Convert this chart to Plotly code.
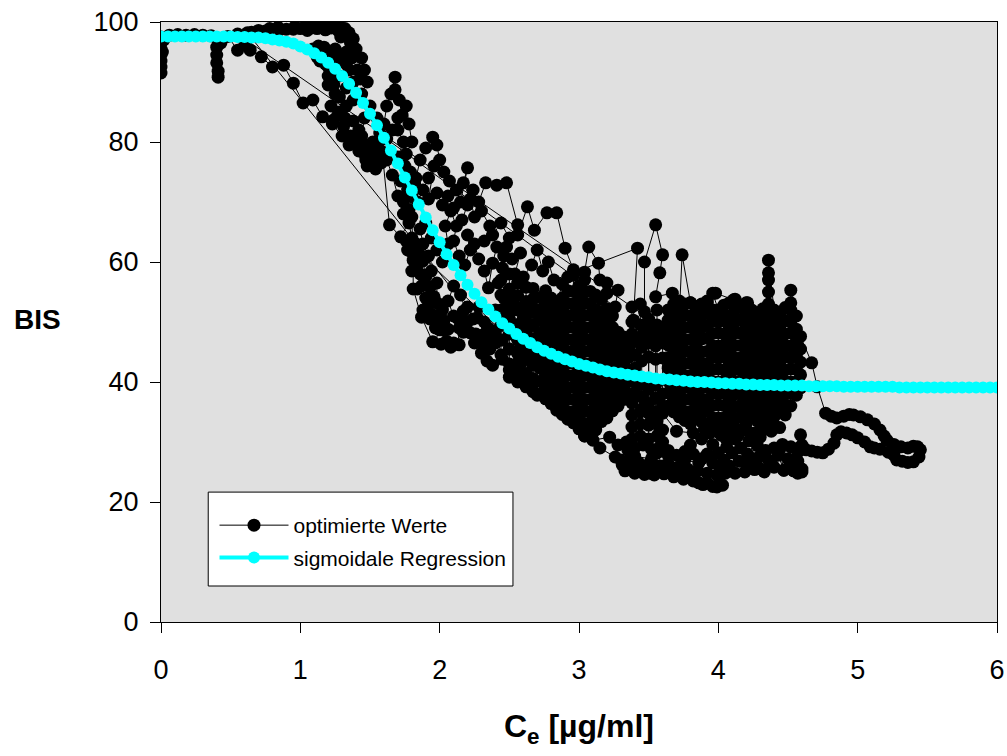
import plotly.graph_objects as go

# ---------------- sigmoid regression ----------------
reg_ce = [0.00, 0.05, 0.10, 0.15, 0.20, 0.25, 0.30, 0.35, 0.40, 0.45, 0.50, 0.55, 0.60, 0.65, 0.70, 0.75,
          0.80, 0.85, 0.90, 0.95, 1.00, 1.05, 1.10, 1.15, 1.20, 1.25, 1.30, 1.35, 1.40, 1.45, 1.50, 1.55,
          1.60, 1.65, 1.70, 1.75, 1.80, 1.85, 1.90, 1.95, 2.00, 2.05, 2.10, 2.15, 2.20, 2.25, 2.30, 2.35,
          2.40, 2.45, 2.50, 2.55, 2.60, 2.65, 2.70, 2.75, 2.80, 2.85, 2.90, 2.95, 3.00, 3.05, 3.10, 3.15,
          3.20, 3.25, 3.30, 3.35, 3.40, 3.45, 3.50, 3.55, 3.60, 3.65, 3.70, 3.75, 3.80, 3.85, 3.90, 3.95,
          4.00, 4.05, 4.10, 4.15, 4.20, 4.25, 4.30, 4.35, 4.40, 4.45, 4.50, 4.55, 4.60, 4.65, 4.70, 4.75,
          4.80, 4.85, 4.90, 4.95, 5.00, 5.05, 5.10, 5.15, 5.20, 5.25, 5.30, 5.35, 5.40, 5.45, 5.50, 5.55,
          5.60, 5.65, 5.70, 5.75, 5.80, 5.85, 5.90, 5.95, 6.00]
reg_bis = [97.6, 97.6, 97.6, 97.6, 97.6, 97.6, 97.6, 97.6, 97.6, 97.6, 97.6, 97.5, 97.5, 97.4, 97.4, 97.3,
           97.1, 96.9, 96.7, 96.4, 95.9, 95.4, 94.8, 94.1, 93.2, 92.2, 91.0, 89.7, 88.2, 86.5, 84.7, 82.8,
           80.7, 78.6, 76.4, 74.1, 71.9, 69.6, 67.4, 65.3, 63.3, 61.3, 59.5, 57.8, 56.2, 54.7, 53.3, 52.1,
           50.9, 49.8, 48.9, 48.0, 47.2, 46.5, 45.8, 45.2, 44.7, 44.2, 43.8, 43.4, 43.0, 42.7, 42.4, 42.1,
           41.8, 41.6, 41.4, 41.2, 41.1, 40.9, 40.8, 40.6, 40.5, 40.4, 40.3, 40.2, 40.1, 40.0, 40.0, 39.9,
           39.8, 39.8, 39.7, 39.7, 39.6, 39.6, 39.5, 39.5, 39.5, 39.4, 39.4, 39.4, 39.4, 39.3, 39.3, 39.3,
           39.3, 39.3, 39.2, 39.2, 39.2, 39.2, 39.2, 39.2, 39.2, 39.2, 39.1, 39.1, 39.1, 39.1, 39.1, 39.1,
           39.1, 39.1, 39.1, 39.1, 39.1, 39.1, 39.1, 39.1, 39.1]

# ---------------- optimised values (in time order) ----------------
path_a = [(0.00, 97.5), (0.00, 96.5), (0.00, 95.5), (0.00, 94.5), (0.00, 93.5), (0.00, 92.5), (0.00, 91.5),
          (0.01, 95.0), (0.02, 97.0), (0.06, 97.8), (0.12, 97.9), (0.18, 97.8), (0.24, 97.9), (0.30, 97.8),
          (0.36, 97.7), (0.40, 97.3), (0.40, 95.8), (0.40, 94.5), (0.40, 93.2), (0.41, 91.8), (0.41, 90.8),
          (0.43, 96.5), (0.48, 97.6), (0.55, 95.3), (0.60, 96.2), (0.64, 95.3), (0.72, 94.2), (0.80, 92.5),
          (0.88, 92.8), (0.95, 89.8), (1.02, 86.5), (1.09, 87.0), (1.16, 84.2), (1.24, 83.7), (1.31, 82.6),
          (1.38, 80.8), (1.45, 79.8), (1.50, 78.5), (1.55, 78.2), (1.59, 77.8), (1.64, 66.2), (1.72, 64.2),
          (1.80, 67.5), (1.81, 60.3), (1.81, 55.5), (1.87, 50.8), (1.95, 46.7), (2.02, 48.7), (2.10, 46.5),
          (2.17, 48.3), (2.27, 50.7), (2.32, 48.0), (2.36, 45.5), (2.40, 46.5), (2.45, 43.8), (2.50, 42.0),
          (2.55, 40.8), (2.58, 43.0), (2.62, 39.8), (2.66, 38.8), (2.70, 37.8)]

top_band = [(0.62, 98.2), (0.70, 98.6), (0.78, 98.9), (0.84, 99.1), (0.90, 98.8), (0.96, 99.2), (1.00, 98.9),
            (1.04, 99.3), (1.08, 99.0), (1.12, 99.3), (1.16, 99.1), (1.20, 99.4), (1.24, 99.2), (1.28, 99.3),
            (1.32, 98.9), (1.35, 98.2), (1.38, 97.2), (1.40, 95.5), (1.37, 94.0), (1.33, 93.0), (1.29, 94.5),
            (1.25, 95.5), (1.21, 95.0), (1.17, 95.8), (1.13, 96.0), (1.09, 95.5), (1.14, 93.5), (1.20, 91.0),
            (1.24, 89.5), (1.28, 87.5), (1.33, 89.0), (1.38, 90.0), (1.43, 90.5), (1.46, 92.0), (1.44, 94.0)]

path_b = [(0.55, 98.0), (0.65, 98.3), (0.75, 98.5), (0.85, 98.7), (0.95, 98.8), (1.05, 98.6), (1.12, 98.9),
          (1.18, 98.7), (1.22, 99.0), (1.27, 98.6), (1.31, 98.3), (1.29, 97.5), (1.36, 96.5), (1.33, 95.0),
          (1.30, 93.5), (1.25, 93.7), (1.12, 94.2), (1.20, 92.5), (1.28, 91.0), (1.35, 92.0), (1.41, 92.0),
          (1.48, 90.0), (1.44, 88.0), (1.38, 87.0), (1.33, 86.0), (1.28, 85.0), (1.32, 84.0), (1.38, 83.5),
          (1.42, 82.0), (1.36, 81.0), (1.40, 79.5), (1.46, 78.0), (1.52, 77.0), (1.48, 76.0), (1.54, 75.5),
          (1.58, 76.5), (1.56, 80.0), (1.60, 83.0), (1.62, 86.0), (1.65, 88.0), (1.68, 90.8), (1.68, 88.7),
          (1.71, 87.0), (1.73, 84.5), (1.70, 82.0), (1.74, 80.0), (1.70, 77.5), (1.75, 76.0), (1.72, 73.5),
          (1.77, 72.0), (1.74, 70.0), (1.78, 68.7), (1.80, 71.0), (1.83, 74.0), (1.86, 77.0), (1.90, 79.0),
          (1.95, 80.8), (1.98, 79.5), (2.00, 77.0), (2.03, 75.0), (2.07, 73.5), (2.12, 72.0), (2.15, 70.0),
          (2.20, 75.7), (2.17, 73.2), (2.22, 70.5), (2.25, 67.5), (2.28, 70.0), (2.33, 73.2), (2.41, 72.8),
          (2.48, 73.2), (2.56, 66.2), (2.56, 64.5), (2.63, 69.2), (2.68, 65.3), (2.77, 68.2), (2.84, 68.2),
          (2.90, 62.3), (2.96, 58.7), (3.04, 58.3), (3.07, 62.5), (3.14, 59.8), (3.15, 57.0), (3.20, 56.5),
          (3.28, 55.3), (3.26, 52.5)]

right_steep = [(1.62, 80.5), (1.66, 82.0), (1.70, 84.0), (1.76, 86.0), (1.78, 83.0), (1.80, 80.0), (1.76, 78.0),
               (1.79, 75.0), (1.82, 73.0), (1.78, 71.0), (1.84, 70.0), (1.88, 72.0), (1.92, 74.0), (1.96, 76.0),
               (1.92, 70.5), (1.98, 71.5), (2.02, 69.5), (2.06, 71.0), (2.10, 69.0), (2.16, 67.0), (2.20, 69.5),
               (2.24, 72.0), (2.30, 68.5), (2.36, 66.0), (2.32, 63.5), (2.38, 64.5), (2.44, 66.5), (2.50, 64.0),
               (2.46, 61.0), (2.52, 60.5), (2.58, 61.5), (2.54, 58.0), (2.60, 57.5), (2.66, 59.5), (2.70, 62.0),
               (2.74, 58.5), (2.78, 60.0), (2.82, 57.0)]

path_c = [(1.18, 93.0), (1.22, 91.5), (1.20, 89.5), (1.25, 88.0), (1.22, 86.0), (1.27, 84.5), (1.23, 83.0),
          (1.30, 81.0), (1.35, 79.5), (1.42, 78.5), (1.47, 77.0), (1.52, 80.0), (1.57, 81.5), (1.55, 84.0),
          (1.50, 86.0), (1.46, 84.0), (1.44, 81.0), (1.50, 79.5), (1.58, 78.5), (1.62, 77.0), (1.66, 74.5),
          (1.70, 71.0), (1.74, 68.0), (1.78, 66.5), (1.80, 64.0), (1.77, 62.0), (1.83, 61.0), (1.80, 58.5),
          (1.86, 58.0), (1.84, 55.5), (1.90, 54.0), (1.88, 52.0), (1.93, 50.5), (1.97, 49.0), (2.00, 48.7),
          (2.02, 52.0), (1.98, 53.2), (1.98, 56.5), (1.94, 58.5), (1.92, 61.0), (1.88, 63.0), (1.86, 65.5),
          (1.90, 66.5), (1.94, 64.0), (1.98, 62.0), (2.02, 60.0), (2.06, 63.0), (2.04, 66.0), (2.08, 68.5),
          (2.12, 66.0), (2.10, 63.5), (2.14, 61.0), (2.18, 59.5), (2.22, 62.0), (2.20, 64.5), (2.25, 63.0),
          (2.28, 60.5), (2.32, 58.5), (2.35, 55.7), (2.38, 59.8), (2.41, 62.5), (2.48, 62.5), (2.45, 59.0),
          (2.42, 56.5), (2.46, 54.0), (2.52, 54.0), (2.50, 51.5), (2.55, 52.5), (2.60, 50.5), (2.64, 52.0),
          (2.70, 52.0), (2.66, 49.5), (2.62, 47.5), (2.58, 45.5), (2.55, 43.0), (2.50, 45.5), (2.45, 47.0),
          (2.40, 48.5), (2.36, 47.0), (2.32, 50.0), (2.28, 52.5), (2.24, 50.5), (2.20, 52.5), (2.15, 54.5),
          (2.10, 56.0), (2.06, 53.5), (2.10, 51.0), (2.14, 49.0), (2.20, 50.0), (2.26, 48.0), (2.30, 46.5),
          (2.35, 49.0), (2.40, 52.0), (2.44, 50.5), (2.50, 49.0), (2.56, 47.0), (2.62, 45.0), (2.68, 44.0),
          (2.72, 42.5)]

left_mass = [(1.76, 63.5), (1.79, 61.8), (1.82, 63.2), (1.85, 61.5), (1.84, 59.5), (1.88, 60.2), (1.90, 57.5),
             (1.87, 56.0), (1.93, 55.8), (1.96, 54.2), (1.92, 52.8), (1.95, 51.2), (1.99, 50.8), (2.03, 50.2),
             (2.06, 48.8), (2.05, 46.8), (2.01, 46.3), (2.08, 45.8), (2.14, 46.2), (2.13, 50.6), (2.17, 51.8),
             (2.22, 48.2), (2.25, 46.5), (2.30, 44.8), (2.34, 43.5), (2.38, 42.8)]

cluster_1 = [(2.44, [44.5, 47.0, 49.5, 52.0, 54.5, 57.0]),
             (2.50, [58.0, 55.5, 53.0, 50.5, 48.0, 45.5, 43.0, 40.8]),
             (2.56, [40.0, 42.4, 44.8, 47.2, 49.6, 52.0, 54.4, 56.5]),
             (2.62, [55.8, 53.4, 51.0, 48.6, 46.2, 43.8, 41.4, 39.2]),
             (2.67, [38.4, 40.6, 42.8, 45.0, 47.2, 49.4, 51.6, 53.8, 55.6]),
             (2.72, [54.1, 52.0, 50.3, 48.1, 46.2, 44.0, 42.3, 40.1, 38.0]),
             (2.76, [37.2, 39.0, 41.2, 43.0, 45.1, 47.2, 49.0, 51.1, 53.0, 55.2]),
             (2.80, [54.0, 52.3, 50.1, 48.2, 46.0, 44.3, 42.1, 40.2, 38.3, 36.4]),
             (2.84, [35.3, 37.0, 39.1, 41.0, 43.2, 45.1, 47.0, 49.2, 51.0, 53.1]),
             (2.88, [56.3, 54.0, 52.1, 50.2, 48.0, 46.1, 44.2, 42.0, 40.3, 38.1, 36.2, 34.6]),
             (2.92, [33.8, 35.1, 37.2, 39.0, 41.1, 43.2, 45.0, 47.1, 49.2, 51.0, 53.1, 55.2, 57.5]),
             (2.96, [57.8, 55.1, 53.0, 51.2, 49.1, 47.0, 45.2, 43.1, 41.0, 39.2, 37.1, 35.0, 33.2]),
             (3.00, [32.2, 34.0, 36.1, 38.2, 40.0, 42.1, 44.2, 46.0, 48.1, 50.2, 52.0, 54.1, 56.0]),
             (3.04, [57.0, 55.0, 53.2, 51.1, 49.0, 47.2, 45.1, 43.0, 41.2, 39.1, 37.0, 35.2, 33.1, 31.0]),
             (3.08, [31.5, 33.2, 35.0, 37.1, 39.2, 41.0, 43.1, 45.2, 47.0, 49.1, 51.2, 53.0, 55.1]),
             (3.12, [54.5, 52.1, 50.2, 48.0, 46.1, 44.2, 42.0, 40.1, 38.2, 36.0, 34.1, 32.0]),
             (3.16, [33.4, 35.1, 37.2, 39.0, 41.1, 43.2, 45.0, 47.1, 49.3, 51.5, 53.8]),
             (3.20, [54.8, 52.2, 50.0, 48.1, 46.2, 44.0, 42.1, 40.2, 38.0, 36.1, 34.0]),
             (3.24, [35.2, 37.0, 39.2, 41.0, 43.1, 45.2, 47.0, 49.1, 51.0]),
             (3.28, [48.3, 46.0, 44.1, 42.2, 40.0, 38.1, 36.0]),
             (3.32, [37.1, 39.0, 41.1, 43.2, 45.4, 47.5]),
             (3.36, [46.0, 44.2, 42.0, 40.1, 38.0]),
             (3.40, [38.2, 40.1, 42.3, 44.5, 46.8]),
             (3.45, [45.8, 43.5, 39.6, 37.5]),
             (3.50, [36.4, 38.8, 44.2, 46.5]),
             (3.55, [46.0, 43.8, 39.5, 37.3, 35.0])]

between = [(3.38, [30.5, 32.5, 34.5, 36.5, 48.0, 50.0, 52.5]),
           (3.44, [53.0, 49.5, 47.5, 35.0, 33.0, 31.0]),
           (3.50, [30.5, 32.8, 34.8, 48.5, 50.5]),
           (3.56, [52.0, 49.5, 47.5, 33.5, 31.0]),
           (3.60, [30.0, 32.0, 36.0, 38.0, 44.0, 46.5, 49.0])]

path_d = [(3.42, 62.3), (3.39, 50.3), (3.47, 51.7), (3.47, 60.0), (3.55, 66.2), (3.60, 61.2), (3.58, 58.2),
          (3.55, 54.2), (3.67, 54.8), (3.71, 46.5), (3.74, 61.2), (3.80, 53.2), (3.98, 54.8), (4.11, 53.7),
          (4.21, 53.2), (4.05, 51.0), (3.92, 53.2), (3.70, 50.0), (3.62, 48.0)]

cluster_2 = [(3.64, [36.0, 38.2, 40.1, 42.3, 44.0, 46.2, 48.1, 50.3, 52.0]),
             (3.68, [53.0, 51.1, 49.0, 47.2, 45.1, 43.0, 41.2, 39.0, 37.1, 35.0]),
             (3.72, [34.2, 36.1, 38.0, 40.2, 42.1, 44.0, 46.2, 48.1, 50.0, 52.2, 53.5]),
             (3.76, [53.0, 51.2, 49.1, 47.0, 45.2, 43.1, 41.0, 39.2, 37.1, 35.0, 33.6]),
             (3.80, [33.0, 35.1, 37.2, 39.0, 41.1, 43.2, 45.0, 47.1, 49.2, 51.0, 53.2]),
             (3.84, [52.2, 50.1, 48.0, 46.2, 44.1, 42.0, 40.2, 38.1, 36.0, 34.2]),
             (3.88, [33.4, 35.2, 37.1, 39.0, 41.2, 43.1, 45.0, 47.2, 49.1, 51.0, 53.0]),
             (3.92, [53.5, 51.6, 49.4, 47.3, 45.1, 43.0, 41.2, 39.1, 37.0, 35.2, 33.0]),
             (3.96, [34.0, 36.1, 38.2, 40.0, 42.1, 44.2, 46.0, 48.1, 50.2, 52.0, 54.8]),
             (4.00, [52.0, 50.1, 48.2, 46.0, 44.1, 42.2, 40.0, 38.1, 36.2, 34.0, 32.5]),
             (4.04, [32.0, 34.0, 36.1, 38.2, 40.1, 42.0, 44.2, 46.1, 48.0, 50.2, 52.8]),
             (4.08, [53.2, 51.0, 49.1, 47.2, 45.0, 43.1, 41.2, 39.0, 37.1, 35.0, 33.2]),
             (4.12, [33.8, 35.9, 38.0, 40.1, 42.2, 44.0, 46.1, 48.2, 50.0, 52.1, 53.8]),
             (4.16, [52.5, 50.4, 48.2, 46.1, 44.0, 42.1, 40.2, 38.0, 36.1, 34.2]),
             (4.20, [33.0, 35.2, 37.1, 39.2, 41.0, 43.1, 45.2, 47.0, 49.1, 51.2, 53.2]),
             (4.24, [52.0, 50.1, 48.0, 46.2, 44.1, 42.0, 40.1, 38.2, 36.0, 34.1]),
             (4.28, [33.5, 35.3, 37.2, 39.1, 41.0, 43.2, 45.1, 47.0, 49.2, 51.5]),
             (4.32, [52.2, 50.0, 48.1, 46.2, 44.0, 42.1, 40.2, 38.0, 36.1, 34.0]),
             (4.36, [33.2, 35.1, 37.0, 39.2, 41.1, 43.0, 45.2, 47.1, 49.0, 51.0, 53.0, 55.0, 57.0, 58.2, 60.3]),
             (4.40, [52.0, 50.2, 48.1, 46.0, 44.2, 42.1, 40.0, 38.2, 36.1, 34.2]),
             (4.44, [35.0, 37.1, 39.0, 41.2, 43.1, 45.0, 47.2, 49.1, 51.0]),
             (4.48, [52.4, 50.2, 48.0, 46.1, 44.2, 42.0, 40.1, 38.0, 36.2, 34.5]),
             (4.52, [36.0, 38.1, 40.0, 42.2, 44.1, 46.0, 48.2, 50.1, 52.0, 53.2, 55.3]),
             (4.56, [51.0, 48.8, 46.6, 44.3, 42.1, 40.0, 37.8]),
             (4.59, [39.0, 41.2, 43.3, 45.5, 47.6])]

path_e = [(4.67, 43.2), (4.71, 39.2), (4.77, 34.8), (4.81, 34.3), (4.85, 34.0), (4.90, 34.3), (4.94, 34.6),
          (4.97, 34.5), (5.02, 34.2), (5.07, 33.7), (5.12, 33.0), (5.16, 32.0), (5.19, 31.0), (5.21, 30.3),
          (5.26, 29.6), (5.31, 29.2), (5.36, 29.0), (5.40, 29.3), (5.43, 29.2), (5.45, 28.7), (5.44, 27.5),
          (5.40, 26.7), (5.36, 26.6), (5.32, 26.8), (5.28, 27.0), (5.26, 27.8), (5.22, 28.3), (5.16, 28.8),
          (5.12, 29.0), (5.09, 29.2), (5.05, 30.0), (5.00, 30.7), (4.96, 31.2), (4.92, 31.5), (4.88, 31.7),
          (4.85, 31.2), (4.83, 29.8), (4.79, 28.8), (4.75, 28.2), (4.71, 28.3), (4.67, 28.5), (4.63, 28.7),
          (4.60, 29.5), (4.59, 31.2), (4.57, 28.3), (4.60, 25.5), (4.57, 24.8), (4.54, 25.8), (4.47, 25.3),
          (4.44, 28.7), (4.38, 26.5), (4.32, 25.3), (4.28, 26.0), (4.21, 26.5), (4.21, 28.0), (4.30, 30.8),
          (4.39, 33.7), (4.18, 34.2), (4.16, 32.0), (4.12, 30.5), (4.06, 29.2), (3.94, 31.5), (3.94, 27.5),
          (4.01, 25.8), (4.03, 25.8), (4.01, 23.2), (3.99, 22.5), (3.92, 23.2), (3.86, 23.2), (3.82, 24.2),
          (3.75, 24.8), (3.68, 25.3), (3.60, 26.0), (3.56, 28.2), (3.51, 24.8), (3.45, 25.0), (3.39, 25.3),
          (3.31, 26.2), (3.35, 28.7), (3.28, 29.5), (3.22, 30.8), (3.10, 30.3), (3.04, 31.0), (3.15, 29.0),
          (3.26, 27.5), (3.40, 27.6), (3.52, 27.2), (3.64, 27.8), (3.76, 27.0), (3.86, 26.5), (3.80, 29.5),
          (3.88, 30.5), (3.96, 29.6), (4.02, 31.2), (3.90, 32.2), (3.82, 31.5), (3.70, 31.8), (3.60, 34.8),
          (3.58, 32.0), (3.51, 33.2), (3.45, 35.5)]

bottom_band = [(3.30, 27.0), (3.33, 25.2), (3.36, 26.8), (3.40, 24.8), (3.43, 26.5), (3.47, 24.6), (3.50, 26.3),
               (3.54, 24.5), (3.57, 26.0), (3.61, 24.7), (3.64, 26.4), (3.68, 24.2), (3.71, 25.8), (3.75, 23.8),
               (3.78, 25.5), (3.82, 23.5), (3.85, 25.2), (3.89, 22.9), (3.92, 24.8), (3.96, 22.6), (3.99, 24.5),
               (4.03, 22.8), (4.05, 24.8), (4.04, 27.0), (4.00, 28.2), (3.96, 26.5), (3.92, 28.0), (3.88, 27.2),
               (3.82, 28.0), (3.76, 28.4), (3.70, 27.8), (3.64, 28.6), (3.58, 29.2), (3.52, 28.8), (3.46, 29.5),
               (3.40, 29.0), (3.34, 30.0)]

lower_right = [(4.08, 26.0), (4.12, 24.8), (4.15, 26.8), (4.19, 25.0), (4.22, 27.2), (4.26, 25.4), (4.29, 27.5),
               (4.33, 25.0), (4.36, 27.0), (4.40, 25.8), (4.43, 27.8), (4.47, 25.3), (4.50, 27.2), (4.54, 25.2),
               (4.57, 26.8), (4.60, 25.0), (4.58, 29.0), (4.52, 29.2), (4.46, 29.6), (4.40, 29.0), (4.34, 28.6),
               (4.28, 29.4), (4.22, 30.2), (4.16, 29.0), (4.10, 28.2), (4.06, 30.5), (4.10, 32.2), (4.14, 31.0),
               (4.20, 32.0), (4.26, 31.5), (4.32, 32.2), (4.38, 31.8), (4.44, 32.4)]

segments = [path_a, top_band, path_c, left_mass, cluster_1, between, path_b, right_steep, path_d,
            cluster_2, path_e, bottom_band, lower_right]

opt_ce, opt_bis = [], []
for seg in segments:
    if isinstance(seg[0][1], list):
        for cx, ys in seg:
            for yv in ys:
                opt_ce.append(cx)
                opt_bis.append(yv)
    else:
        for cx, yv in seg:
            opt_ce.append(cx)
            opt_bis.append(yv)

x_ticks = [0, 1, 2, 3, 4, 5, 6]
y_ticks = [0, 20, 40, 60, 80, 100]

FONT = "Liberation Sans, Arial, Helvetica, sans-serif"

fig = go.Figure()
fig.add_trace(go.Scatter(
    x=opt_ce, y=opt_bis, mode="lines+markers", name="optimierte Werte",
    line=dict(color="black", width=1),
    marker=dict(color="black", size=13, line=dict(width=0)),
    legendgroup="a",
))
fig.add_trace(go.Scatter(
    x=reg_ce, y=reg_bis, mode="lines+markers", name="sigmoidale Regression",
    line=dict(color="#00ffff", width=4),
    marker=dict(color="#00ffff", size=12, line=dict(width=0)),
    legendgroup="b",
))

axis_common = dict(
    showline=True, linecolor="black", linewidth=1, mirror=True,
    ticks="outside", ticklen=10, tickcolor="black", tickwidth=1,
    showgrid=False, zeroline=False, automargin=False,
    tickfont=dict(family=FONT, size=27, color="black"),
)
fig.update_xaxes(range=[0, 6], tickvals=x_ticks, ticklabelstandoff=14, **axis_common)
fig.update_yaxes(range=[0, 100], tickvals=y_ticks, ticklabelstandoff=6, **axis_common)

fig.update_layout(
    width=1007, height=756,
    margin=dict(l=161, r=10, t=22, b=134),
    paper_bgcolor="white", plot_bgcolor="#e0e0e0",
    showlegend=True,
    legend=dict(
        x=0.064, y=0.195, xanchor="left", yanchor="top",
        bgcolor="rgba(0,0,0,0)", borderwidth=0,
        font=dict(family=FONT, size=21, color="black"),
        traceorder="grouped", tracegroupgap=2, itemwidth=69,
    ),
    shapes=[dict(type="rect", xref="paper", yref="paper", x0=0.0565, x1=0.421, y0=0.060, y1=0.2165,
                 fillcolor="white", line=dict(color="black", width=1), layer="above")],
    annotations=[
        dict(text="<b>C<sub>e</sub> [µg/ml]</b>", xref="paper", yref="paper", x=0.5, y=-0.178,
             xanchor="center", yanchor="middle", showarrow=False,
             font=dict(family=FONT, size=32, color="black")),
        dict(text="<b>BIS</b>", xref="paper", yref="paper", x=-0.148, y=0.505,
             xanchor="center", yanchor="middle", showarrow=False,
             font=dict(family=FONT, size=28, color="black")),
    ],
)

fig.write_html("out.html")
